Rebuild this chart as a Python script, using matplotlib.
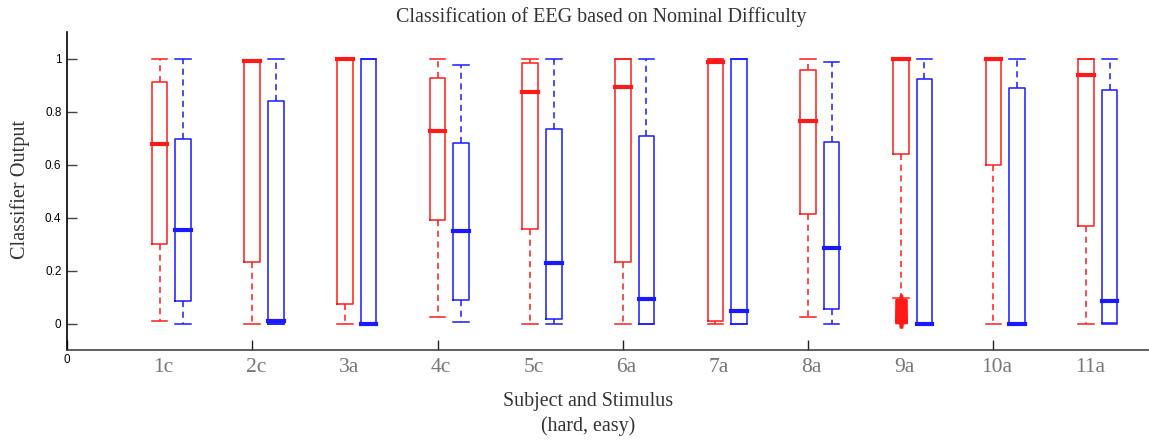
import matplotlib
matplotlib.use("Agg")
import matplotlib.pyplot as plt

# Subject/stimulus groups
groups = ["1c", "2c", "3a", "4c", "5c", "6a", "7a", "8a", "9a", "10a", "11a"]

# Box statistics for the "hard" condition (red)
hard_whislo = [0.009, 0.0, 0.0, 0.026, 0.0, 0.0, 0.0, 0.026, 0.097, 0.0, 0.0]
hard_q1     = [0.301, 0.233, 0.072, 0.389, 0.355, 0.234, 0.009, 0.412, 0.639, 0.598, 0.368]
hard_med    = [0.678, 0.992, 1.0, 0.726, 0.874, 0.894, 0.988, 0.763, 1.0, 1.0, 0.937]
hard_q3     = [0.911, 0.995, 1.0, 0.928, 0.983, 1.0, 1.0, 0.957, 1.0, 1.0, 1.0]
hard_whishi = [0.997, 0.995, 1.0, 1.0, 1.0, 1.0, 1.0, 1.0, 1.0, 1.0, 1.0]

# Box statistics for the "easy" condition (blue)
easy_whislo = [0.0, 0.0, 0.0, 0.005, 0.0, 0.0, 0.0, 0.0, 0.0, 0.0, 0.0]
easy_q1     = [0.085, 0.0, 0.0, 0.089, 0.018, 0.0, 0.0, 0.055, 0.0, 0.0, 0.003]
easy_med    = [0.353, 0.008, 0.0, 0.348, 0.229, 0.093, 0.046, 0.284, 0.0, 0.0, 0.084]
easy_q3     = [0.696, 0.840, 1.0, 0.682, 0.733, 0.708, 1.0, 0.686, 0.924, 0.889, 0.881]
easy_whishi = [0.997, 1.0, 1.0, 0.976, 1.0, 1.0, 1.0, 0.987, 1.0, 1.0, 1.0]

# Outlying outputs for subject 9a (hard)
hard_fliers_9a = [0.004, 0.006, 0.008, 0.010, 0.012, 0.015,
                  0.018, 0.020, 0.023, 0.026, 0.030, 0.033, 0.036, 0.040,
                  0.044, 0.048, 0.052, 0.056, 0.060, 0.065, 0.070, 0.075,
                  0.080, 0.085, 0.088]

y_ticks = [0, 0.2, 0.4, 0.6, 0.8, 1.0]
y_tick_labels = ["0", "0.2", "0.4", "0.6", "0.8", "1"]

RED = "#ff1a1a"
BLUE = "#1a1aff"

fig = plt.figure(figsize=(11.49, 4.40), dpi=100)
ax = fig.add_axes([0.0583, 0.2045, 0.9417, 0.7227])


def make_stats(lo, q1, med, q3, hi, fliers_by_idx=None):
    stats = []
    for i in range(len(lo)):
        fl = []
        if fliers_by_idx and i in fliers_by_idx:
            fl = fliers_by_idx[i]
        stats.append(dict(whislo=lo[i], q1=q1[i], med=med[i], q3=q3[i],
                          whishi=hi[i], fliers=fl))
    return stats


hard_stats = make_stats(hard_whislo, hard_q1, hard_med, hard_q3, hard_whishi,
                        {groups.index("9a"): hard_fliers_9a})
easy_stats = make_stats(easy_whislo, easy_q1, easy_med, easy_q3, easy_whishi)

n = len(groups)
hard_pos = [i + 1 for i in range(n)]
easy_pos = [i + 1.255 for i in range(n)]
box_w = 0.168


def draw(stats, pos, color):
    ax.bxp(stats, positions=pos, widths=box_w, capwidths=box_w,
           showfliers=True, manage_ticks=False,
           boxprops=dict(color=color, linewidth=1.1),
           medianprops=dict(color=color, linewidth=3.0,
                            solid_capstyle="projecting"),
           whiskerprops=dict(color=color, linewidth=1.1, linestyle=(0, (4, 3))),
           capprops=dict(color=color, linewidth=1.1),
           flierprops=dict(marker="+", markeredgecolor=color, markersize=9,
                           markeredgewidth=2.4, linestyle="none"))


draw(hard_stats, hard_pos, RED)
draw(easy_stats, easy_pos, BLUE)

ax.set_xlim(0, 11.68)
ax.set_ylim(-0.1, 1.1)

ax.set_yticks(y_ticks)
ax.set_yticklabels(y_tick_labels, fontfamily="Liberation Sans", fontsize=8.5)
ax.set_xticks([0, 2, 4, 6, 8, 10])
ax.set_xticklabels(["0", "", "", "", "", ""], fontfamily="Liberation Sans",
                   fontsize=8.5)
ax.tick_params(axis="y", direction="in", length=7.5, width=1, colors="#444444",
               labelcolor="black", pad=4)
ax.tick_params(axis="x", direction="in", length=7.5, width=1, colors="#222222",
               labelcolor="black", pad=3)

for side in ("top", "right"):
    ax.spines[side].set_visible(False)
ax.spines["left"].set_color("black")
ax.spines["bottom"].set_color("#444444")
ax.spines["left"].set_linewidth(1.2)
ax.spines["bottom"].set_linewidth(1.2)

# Group labels under each pair of boxes
for i, g in enumerate(groups):
    ax.text(hard_pos[i] + 0.04, -0.165, g, ha="center", va="center",
            fontfamily="Liberation Serif", fontsize=15.5, color="#777777")

fig.text(0.5235, 0.962, "Classification of EEG based on Nominal Difficulty",
         ha="center", va="center", fontfamily="Liberation Serif",
         fontsize=14.4, color="#333333")
fig.text(0.0175, 0.570, "Classifier Output", rotation=90, ha="center",
         va="center", fontfamily="Liberation Serif", fontsize=14.6,
         color="#333333")
fig.text(0.512, 0.087, "Subject and Stimulus", ha="center", va="center",
         fontfamily="Liberation Serif", fontsize=14.4, color="#333333")
fig.text(0.512, 0.032, "(hard, easy)", ha="center", va="center",
         fontfamily="Liberation Serif", fontsize=14.4, color="#333333")

fig.savefig("out.png", dpi=100)
